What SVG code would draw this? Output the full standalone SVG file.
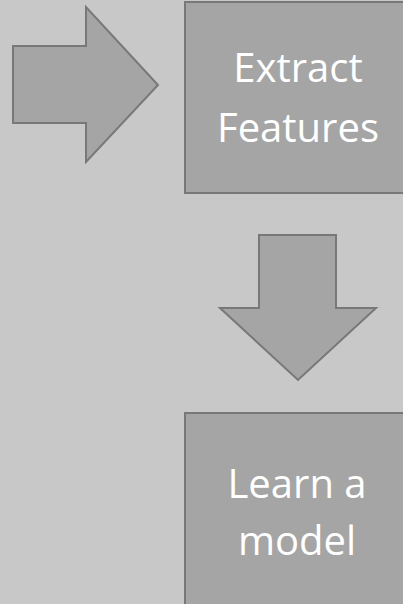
<svg xmlns="http://www.w3.org/2000/svg" width="403" height="604" viewBox="0 0 403 604">
  <style>
    .shape { fill: #a5a5a5; stroke: #787878; stroke-width: 2; }
    .label { fill: #ffffff; font-family: "Open Sans", "Noto Sans", sans-serif; font-size: 40px; text-anchor: middle; }
  </style>
  <rect x="0" y="0" width="403" height="604" fill="#c8c8c8"/>
  <g id="connectors">
    <polygon class="shape" points="13,46 86,46 86,7 158,85 86,162 86,123 13,123"/>
    <polygon class="shape" points="259,235 336,235 336,308 376,308 298,380 220,308 259,308"/>
  </g>
  <g id="extract-features">
    <rect class="shape" x="185" y="2" width="230" height="191"/>
    <text class="label" x="298" y="82">Extract</text>
    <text class="label" x="298" y="142">Features</text>
  </g>
  <g id="learn-model">
    <rect class="shape" x="185" y="413" width="230" height="200"/>
    <text class="label" x="297" y="498">Learn a</text>
    <text class="label" x="297" y="555">model</text>
  </g>
</svg>
